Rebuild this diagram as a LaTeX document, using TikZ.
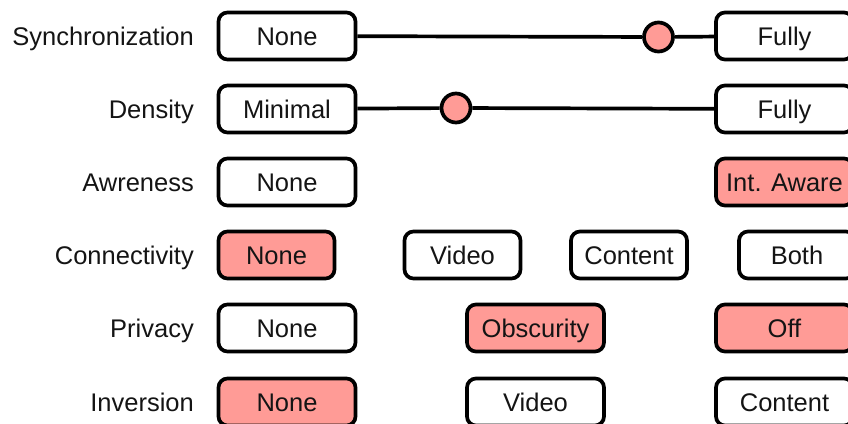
\documentclass[tikz,border=0pt]{standalone}
\usepackage{fontspec}
\setmainfont{Liberation Sans}
\definecolor{sel}{RGB}{255,155,150}
\definecolor{txt}{RGB}{20,20,20}
\begin{document}
\begin{tikzpicture}[x=1pt,y=-1pt,
  bigfont/.style={font=\fontsize{25.5}{30}\selectfont,text=txt,text height=18.4pt,text depth=0pt},
  optbox/.style={bigfont,draw=black,line width=3.7pt,rounded corners=9pt,minimum width=137pt,minimum height=47pt,inner sep=0pt,fill=white},
  narrow/.style={optbox,minimum width=116pt},
  chosen/.style={fill=sel},
  rowlabel/.style={bigfont,anchor=east,inner sep=0pt},
  knob/.style={circle,draw=black,line width=3.7pt,fill=sel,minimum size=29pt,inner sep=0pt},
  link/.style={line width=3.7pt}]
\useasboundingbox (0,0) rectangle (848,423);
% labels
\node[rowlabel] (l1) at (194,36) {Synchronization};
\node[rowlabel] (l2) at (194,109) {Density};
\node[rowlabel] (l3) at (194,182) {Awreness};
\node[rowlabel] (l4) at (194,255) {Connectivity};
\node[rowlabel] (l5) at (194,328) {Privacy};
\node[rowlabel] (l6) at (194,402) {Inversion};
% row 1
\node[optbox] (s1) at (287,36) {None};
\node[optbox] (s2) at (784.5,36) {Fully};
\node[knob] (k1) at (658.5,37) {};
\draw[link] (s1) -- (k1) -- (s2);
% row 2
\node[optbox] (d1) at (287,109) {Minimal};
\node[optbox] (d2) at (784.5,109) {Fully};
\node[knob] (k2) at (456,108) {};
\draw[link] (d1) -- (k2) -- (d2);
% row 3
\node[optbox] (a1) at (287,182) {None};
\node[optbox,chosen] (a2) at (784.5,182) {Int. Aware};
% row 4
\node[narrow,chosen] (c1) at (276.5,255) {None};
\node[narrow] (c2) at (462.5,255) {Video};
\node[narrow] (c3) at (629,255) {Content};
\node[narrow] (c4) at (797,255) {Both};
% row 5
\node[optbox] (p1) at (287,328) {None};
\node[optbox,chosen] (p2) at (535.5,328) {Obscurity};
\node[optbox,chosen] (p3) at (784.5,328) {Off};
% row 6
\node[optbox,chosen] (i1) at (287,402) {None};
\node[optbox] (i2) at (535.5,402) {Video};
\node[optbox] (i3) at (784.5,402) {Content};
\end{tikzpicture}
\end{document}
